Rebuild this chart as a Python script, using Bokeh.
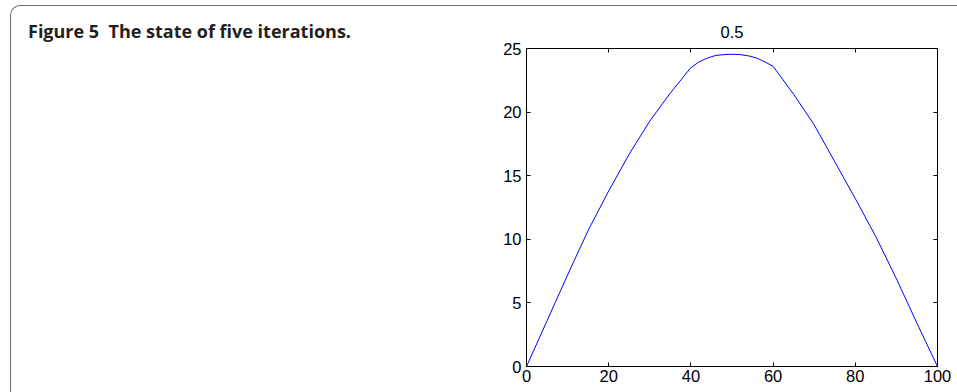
from bokeh.plotting import figure
from bokeh.models import Range1d, LinearAxis, FixedTicker, CustomLabelingPolicy, Div
from bokeh.layouts import row
from bokeh.embed import file_html
from bokeh.resources import INLINE

# ---- data ----
x_vals = [0, 5, 10, 15, 20, 25, 30, 35, 40, 42, 44, 46, 48, 50, 52, 54, 56, 58, 60,
          65, 70, 75, 80, 85, 90, 95, 100]
y_vals = [0, 3.6, 7.2, 10.7, 13.8, 16.7, 19.3, 21.5, 23.5, 23.95, 24.25, 24.45, 24.52,
          24.55, 24.52, 24.42, 24.25, 23.95, 23.6,
          21.4, 19.0, 16.1, 13.2, 10.2, 6.9, 3.4, 0]
x_ticks = [0, 20, 40, 60, 80, 100]
y_ticks = [0, 5, 10, 15, 20, 25]
plot_title = "0.5"
caption_label = "Figure 5"
caption_text = "The state of five iterations."

FONT = "Liberation Sans"

p = figure(width=476, height=386, output_backend="svg", toolbar_location=None,
           x_range=Range1d(0, 100), y_range=Range1d(0, 25),
           min_border_left=45, min_border_right=20, min_border_top=42, min_border_bottom=26,
           title=None, margin=0)
p.background_fill_color = "white"
p.border_fill_color = "white"
p.outline_line_color = "black"
p.outline_line_width = 1
p.grid.visible = False

hide_all = CustomLabelingPolicy(code="""
for (const i of indices) { indices.unset(i) }
return indices
""")

def style_axis(ax, ticks, labels=True):
    ax.ticker = FixedTicker(ticks=ticks)
    ax.major_tick_in = 4
    ax.major_tick_out = 0
    ax.minor_tick_line_color = None
    ax.axis_line_color = "black"
    ax.major_tick_line_color = "black"
    ax.major_label_text_font = FONT
    ax.major_label_text_color = "black"
    if labels:
        ax.major_label_text_font_size = "16.5px"
    else:
        ax.major_label_text_font_size = "0px"
        ax.major_label_policy = hide_all
        ax.major_label_standoff = 0

style_axis(p.xaxis[0], x_ticks)
p.xaxis[0].major_label_standoff = 3
style_axis(p.yaxis[0], y_ticks)
p.yaxis[0].major_label_standoff = 5

top_ax = LinearAxis(axis_label=plot_title)
style_axis(top_ax, x_ticks, labels=False)
top_ax.axis_label_standoff = 11
top_ax.axis_label_text_font = FONT
top_ax.axis_label_text_font_size = "16.5px"
top_ax.axis_label_text_font_style = "normal"
top_ax.axis_label_text_color = "black"
p.add_layout(top_ax, "above")

right_ax = LinearAxis()
style_axis(right_ax, y_ticks, labels=False)
p.add_layout(right_ax, "right")

p.line(x_vals, y_vals, line_color="#0000ff", line_width=1)

cap = Div(text=('<div style="padding:13px 0 0 17px; font-family:\'Open Sans\'; font-weight:bold; '
                'font-size:18px; color:#231f20; white-space:pre; line-height:normal;">'
                f'{caption_label}&nbsp;&nbsp;{caption_text}</div>'),
          width=470, height=386, margin=0)

lay = row(cap, p, margin=(5, 0, 0, 10),
          styles={"border-top": "1px solid #6e6e6e", "border-left": "1px solid #6e6e6e",
                  "border-top-left-radius": "10px", "background-color": "white"})

open("out.html", "w").write(file_html(lay, INLINE))
